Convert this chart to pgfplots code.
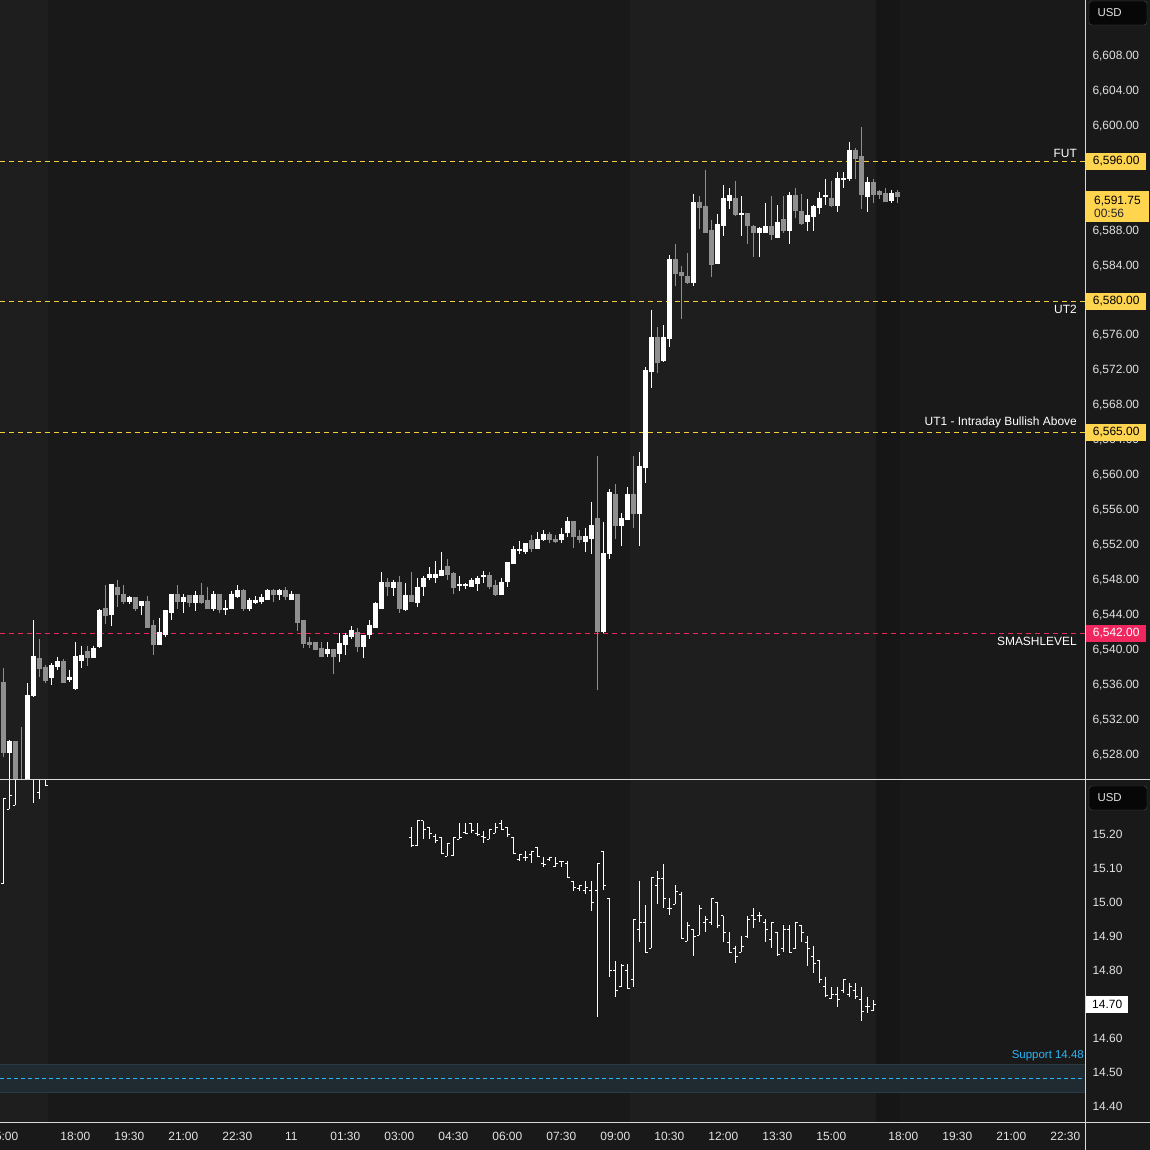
\documentclass[border=0pt]{standalone}
\usepackage{pgfplots}
\pgfplotsset{compat=1.18}
\usepackage{pgfplotstable}
\usepackage{fontspec}
\setmainfont{Liberation Sans}
\definecolor{bgbase}{HTML}{191919}
\definecolor{bglight}{HTML}{1E1E1E}
\definecolor{bgdark}{HTML}{161616}
\definecolor{candown}{HTML}{8F8F8F}
\definecolor{tickcol}{HTML}{E2E2E2}
\definecolor{lvlyellow}{HTML}{F7CF3D}
\definecolor{tagyellow}{HTML}{FFD54F}
\definecolor{lvlpink}{HTML}{F0265F}
\definecolor{supblue}{HTML}{29B6F6}
\definecolor{bandfill}{HTML}{1F2A31}
\definecolor{bandline}{HTML}{2A3B46}
\definecolor{sepcol}{HTML}{D9D9D9}

\pgfplotstableread{
k O H L C U
0 6536.13 6537.84 6527.66 6528.23 0
1 6528.23 6529.60 6522.00 6529.37 1
2 6529.37 6529.37 6522.00 6524.00 0
3 6524.50 6531.10 6521.00 6523.00 0
4 6523.00 6536.10 6521.00 6534.64 1
5 6534.75 6543.30 6534.50 6539.10 1
6 6538.87 6541.20 6536.80 6537.73 0
7 6537.84 6538.20 6536.10 6536.47 0
8 6536.70 6538.40 6535.90 6538.07 1
9 6537.96 6539.10 6537.60 6538.60 1
10 6538.60 6538.87 6536.20 6536.20 0
11 6536.50 6537.60 6536.20 6536.70 1
12 6535.55 6540.80 6535.30 6539.10 1
13 6538.70 6540.40 6537.84 6539.30 1
14 6539.67 6540.40 6538.07 6538.99 0
15 6538.99 6540.40 6538.99 6540.10 1
16 6540.25 6544.60 6540.10 6544.37 1
17 6544.60 6547.30 6542.90 6543.80 0
18 6544.00 6547.50 6542.65 6547.34 1
19 6547.10 6547.90 6544.80 6546.20 0
20 6546.30 6547.30 6545.20 6545.50 0
21 6545.50 6546.10 6545.20 6545.85 1
22 6545.85 6545.85 6544.40 6544.70 0
23 6545.05 6545.40 6543.90 6545.40 1
24 6545.40 6546.10 6542.50 6542.50 0
25 6542.65 6543.30 6539.30 6540.50 0
26 6540.50 6543.60 6540.50 6541.85 1
27 6541.70 6544.40 6541.40 6544.40 1
28 6544.25 6546.30 6543.30 6546.30 1
29 6546.30 6547.30 6544.60 6545.50 0
30 6545.50 6546.30 6544.10 6545.85 1
31 6546.10 6546.10 6544.80 6545.30 0
32 6545.30 6546.70 6544.40 6546.10 1
33 6546.10 6547.60 6545.20 6545.30 0
34 6545.60 6547.10 6544.70 6544.70 0
35 6544.70 6546.70 6544.40 6546.30 1
36 6546.30 6546.30 6544.10 6544.50 0
37 6544.50 6545.60 6543.90 6544.62 1
38 6544.70 6546.70 6544.60 6546.30 1
39 6546.00 6547.30 6545.90 6546.70 1
40 6546.70 6546.90 6544.40 6544.70 0
41 6544.70 6545.85 6544.40 6545.60 1
42 6545.30 6546.10 6545.20 6545.60 1
43 6545.50 6546.30 6545.20 6545.85 1
44 6545.70 6546.90 6545.60 6546.70 1
45 6546.70 6546.90 6545.40 6546.20 0
46 6546.20 6546.90 6545.60 6546.70 1
47 6546.70 6547.10 6545.60 6546.00 0
48 6545.70 6546.70 6545.70 6546.30 1
49 6546.30 6546.30 6542.10 6543.00 0
50 6543.30 6543.30 6540.10 6540.70 0
51 6540.80 6541.40 6540.10 6540.50 0
52 6540.80 6540.80 6539.90 6540.00 0
53 6540.10 6540.80 6539.20 6539.20 0
54 6539.50 6540.80 6539.10 6539.90 1
55 6539.90 6539.90 6537.20 6539.20 0
56 6539.50 6541.85 6538.50 6540.60 1
57 6540.50 6541.85 6539.30 6541.60 1
58 6541.50 6542.65 6541.20 6542.10 1
59 6541.85 6542.40 6539.70 6540.25 0
60 6540.25 6541.60 6539.00 6541.60 1
61 6541.70 6543.30 6541.20 6542.65 1
62 6542.50 6545.40 6542.40 6545.20 1
63 6544.70 6548.80 6544.60 6547.60 1
64 6547.60 6548.10 6546.10 6547.20 0
65 6547.00 6547.90 6546.10 6547.60 1
66 6547.60 6548.40 6544.10 6544.70 0
67 6544.50 6547.60 6544.40 6546.10 1
68 6546.10 6548.80 6545.40 6545.50 0
69 6545.30 6548.10 6544.80 6547.10 1
70 6547.20 6548.40 6546.10 6548.10 1
71 6548.20 6549.40 6547.90 6548.50 1
72 6548.20 6550.10 6547.60 6548.50 1
73 6548.40 6551.10 6548.40 6549.00 1
74 6549.40 6550.30 6547.90 6548.50 0
75 6548.60 6548.80 6546.30 6547.00 0
76 6547.30 6548.40 6546.70 6547.42 1
77 6547.30 6547.60 6546.90 6547.42 1
78 6547.20 6548.10 6547.10 6547.90 1
79 6547.50 6548.40 6546.70 6548.10 1
80 6548.30 6549.00 6547.60 6548.42 1
81 6548.40 6548.80 6546.90 6547.20 0
82 6547.30 6547.90 6546.10 6546.20 0
83 6546.20 6548.10 6546.20 6547.60 1
84 6547.80 6549.90 6547.10 6549.90 1
85 6549.75 6551.80 6549.75 6551.35 1
86 6551.30 6552.40 6550.90 6551.42 1
87 6551.20 6552.10 6550.90 6552.10 1
88 6552.40 6553.10 6551.10 6551.50 0
89 6551.50 6553.40 6551.50 6552.60 1
90 6552.50 6553.60 6552.40 6553.10 1
91 6553.10 6553.40 6552.10 6552.50 0
92 6552.60 6553.10 6552.10 6552.30 0
93 6552.50 6553.90 6552.10 6553.10 1
94 6553.30 6555.10 6552.85 6554.60 1
95 6554.60 6554.60 6551.60 6552.95 0
96 6552.85 6553.60 6552.10 6552.50 0
97 6552.30 6553.90 6551.10 6552.85 1
98 6552.70 6556.80 6550.90 6554.10 1
99 6554.90 6562.10 6535.30 6542.00 0
100 6542.00 6554.55 6541.85 6550.90 1
101 6551.00 6558.30 6550.30 6557.90 1
102 6557.65 6558.90 6552.60 6554.20 0
103 6554.20 6555.60 6551.80 6554.90 1
104 6554.80 6558.55 6554.80 6557.65 1
105 6557.65 6562.10 6553.90 6555.50 0
106 6555.50 6562.60 6551.80 6560.85 1
107 6560.77 6572.30 6559.00 6571.83 1
108 6571.75 6578.82 6569.92 6575.61 1
109 6575.61 6576.87 6571.64 6572.78 0
110 6573.01 6577.10 6572.90 6575.61 1
111 6575.53 6585.10 6574.62 6584.54 1
112 6584.54 6586.37 6581.56 6582.94 0
113 6583.05 6583.85 6577.79 6582.71 0
114 6582.59 6585.34 6581.79 6582.02 0
115 6582.02 6592.09 6581.56 6591.06 1
116 6591.06 6591.86 6588.09 6590.49 0
117 6590.60 6594.84 6587.63 6587.74 0
118 6587.86 6589.12 6582.59 6583.97 0
119 6584.19 6589.80 6584.08 6588.54 1
120 6588.43 6593.12 6587.28 6591.52 1
121 6591.40 6592.78 6590.37 6591.86 1
122 6591.52 6593.58 6589.57 6589.69 0
123 6589.75 6591.86 6587.28 6589.85 1
124 6589.80 6589.80 6586.37 6588.43 0
125 6588.31 6588.54 6584.88 6587.74 0
126 6587.74 6588.31 6584.88 6588.09 1
127 6587.74 6591.06 6587.63 6588.31 1
128 6588.31 6591.86 6586.83 6587.51 0
129 6587.17 6590.83 6587.17 6588.77 1
130 6589.12 6591.86 6587.63 6587.97 0
131 6587.97 6592.32 6586.37 6591.86 1
132 6591.86 6592.78 6589.34 6590.26 0
133 6590.03 6592.09 6588.54 6588.66 0
134 6589.00 6591.52 6587.86 6589.57 1
135 6589.46 6590.83 6587.86 6590.60 1
136 6590.49 6592.32 6589.80 6591.52 1
137 6591.80 6593.81 6590.83 6591.92 1
138 6591.52 6593.58 6590.60 6590.72 0
139 6590.72 6594.61 6590.03 6593.81 1
140 6593.75 6594.61 6592.78 6593.87 1
141 6593.92 6598.04 6593.58 6597.01 1
142 6597.01 6597.36 6593.81 6596.21 0
143 6596.33 6599.76 6590.37 6591.98 0
144 6591.75 6594.04 6590.03 6593.35 1
145 6593.35 6593.81 6591.06 6591.98 0
146 6592.32 6592.55 6591.52 6591.98 0
147 6592.09 6592.78 6591.18 6591.18 0
148 6591.40 6592.55 6591.06 6592.09 1
149 6592.25 6592.55 6591.06 6591.75 0
}\spx

\pgfplotstableread{
k O H L C
0 15.050 15.300 15.050 15.300
1 15.270 15.400 15.270 15.309
2 15.282 15.400 15.282 15.380
5 15.400 15.450 15.288 15.370
6 15.318 15.420 15.300 15.380
7 15.370 15.400 15.341 15.341
68 15.187 15.217 15.160 15.162
69 15.162 15.236 15.162 15.236
70 15.236 15.236 15.181 15.209
71 15.217 15.217 15.181 15.199
72 15.189 15.197 15.170 15.179
73 15.187 15.187 15.140 15.140
74 15.132 15.168 15.132 15.168
75 15.135 15.187 15.132 15.187
76 15.181 15.228 15.181 15.187
77 15.200 15.228 15.199 15.199
78 15.228 15.228 15.201 15.207
79 15.198 15.228 15.191 15.196
80 15.189 15.207 15.170 15.187
81 15.181 15.209 15.181 15.209
82 15.199 15.228 15.199 15.217
83 15.228 15.238 15.211 15.211
84 15.217 15.217 15.189 15.195
85 15.187 15.187 15.140 15.140
86 15.121 15.138 15.119 15.138
87 15.129 15.148 15.119 15.127
88 15.138 15.148 15.111 15.145
89 15.158 15.158 15.130 15.130
90 15.110 15.128 15.099 15.108
91 15.121 15.128 15.119 15.128
92 15.101 15.128 15.099 15.109
93 15.117 15.117 15.099 15.117
94 15.109 15.117 15.070 15.070
95 15.058 15.058 15.030 15.040
96 15.038 15.046 15.030 15.046
97 15.030 15.058 15.021 15.040
98 15.030 15.060 14.970 14.997
99 15.030 15.109 14.660 15.109
100 15.146 15.146 15.032 15.046
101 15.008 15.008 14.777 14.797
102 14.797 14.824 14.719 14.738
103 14.748 14.815 14.748 14.809
104 14.797 14.815 14.740 14.743
105 14.768 14.947 14.748 14.947
106 14.917 15.060 14.880 14.937
107 14.937 14.987 14.848 14.848
108 14.861 15.068 14.861 15.068
109 15.047 15.088 14.990 15.067
110 15.067 15.109 14.980 15.008
111 14.979 15.008 14.959 14.977
112 14.990 15.047 14.990 15.027
113 15.018 15.027 14.890 14.890
114 14.882 14.937 14.882 14.927
115 14.917 14.917 14.839 14.897
116 14.899 14.987 14.899 14.978
117 14.937 14.957 14.910 14.946
118 14.937 15.008 14.929 15.008
119 14.996 14.996 14.920 14.927
120 14.957 14.957 14.880 14.908
121 14.878 14.908 14.849 14.849
122 14.859 14.868 14.819 14.838
123 14.849 14.896 14.849 14.867
124 14.895 14.957 14.890 14.946
125 14.957 14.978 14.920 14.946
126 14.957 14.967 14.939 14.958
127 14.937 14.946 14.880 14.917
128 14.887 14.937 14.861 14.937
129 14.908 14.908 14.839 14.844
130 14.859 14.928 14.849 14.917
131 14.917 14.928 14.849 14.849
132 14.859 14.937 14.859 14.937
133 14.928 14.928 14.880 14.908
134 14.878 14.896 14.810 14.859
135 14.838 14.868 14.789 14.817
136 14.826 14.826 14.760 14.768
137 14.748 14.777 14.719 14.721
138 14.713 14.748 14.711 14.726
139 14.726 14.748 14.689 14.709
140 14.738 14.768 14.728 14.768
141 14.726 14.760 14.719 14.748
142 14.738 14.758 14.711 14.719
143 14.709 14.748 14.648 14.675
144 14.689 14.719 14.670 14.690
145 14.679 14.709 14.677 14.697
}\vix

\pgfplotsset{
  wick/.style={draw=none, mark=none, forget plot,
    error bars/.cd, y dir=minus, y explicit, error mark=none,
    error bar style={draw=#1, solid, line width=1bp}},
  body/.style={draw=none, mark=none, forget plot,
    error bars/.cd, y dir=minus, y explicit, error mark=none,
    error bar style={draw=#1, solid, line width=4.6bp}},
  tvticks/.style={
    scaled ticks=false,
    axis line style={draw=none},
    tick style={draw=none}, major tick length=0,
    yticklabel pos=right,
    yticklabel style={/pgf/number format/fixed, /pgf/number format/fixed zerofill,
      /pgf/number format/precision=2, /pgf/number format/1000 sep={,},
      /pgf/number format/assume math mode=true,
      anchor=west, xshift=4bp, yshift=-1bp, text=tickcol, font=\fontsize{12}{14}\selectfont},
  },
}
\tikzset{lvl/.style={draw=#1, line width=1.1bp, dash pattern=on 5bp off 4bp}}

\begin{document}
\begin{tikzpicture}[x=1bp,y=1bp]
\useasboundingbox (0,0) rectangle (1150,1150);
\clip (0,0) rectangle (1150,1150);
\fill[bgbase] (0,0) rectangle (1150,1150);
\fill[bglight] (0,28) rectangle (48.33,1150);
\fill[bglight] (630.33,28) rectangle (876.33,1150);
\fill[bgdark] (876.33,28) rectangle (900.33,1150);

% ---------- top panel ----------
\begin{axis}[
  at={(0bp,371bp)}, anchor=south west, scale only axis,
  width=1085bp, height=779bp,
  xmin=-0.555, xmax=180.28,
  ymin=6525.139, ymax=6614.295,
  tvticks,
  xtick=\empty,
  ytick={6528,6532,6536,6540,6544,6548,6552,6556,6560,6564,6568,6572,6576,6580,6584,6588,6596,6600,6604,6608},
]
\draw[lvl=lvlyellow, yshift=-1.5bp] (axis cs:-0.555,6596) -- (axis cs:180.28,6596);
\draw[lvl=lvlyellow, yshift=-1.85bp] (axis cs:-0.555,6580) -- (axis cs:180.28,6580);
\draw[lvl=lvlyellow, yshift=-1.8bp] (axis cs:-0.555,6565) -- (axis cs:180.28,6565);
\draw[lvl=lvlpink, yshift=-1.82bp] (axis cs:-0.555,6542) -- (axis cs:180.28,6542);

\addplot[wick=white] table[x=k, y=H,
  y error minus expr={(\thisrow{H}-\thisrow{L})*\thisrow{U}}] {\spx};
\addplot[wick=candown] table[x=k, y=H,
  y error minus expr={(\thisrow{H}-\thisrow{L})*(1-\thisrow{U})}] {\spx};
\addplot[body=white] table[x=k, y expr={max(\thisrow{O},\thisrow{C})+0.06},
  y error minus expr={(abs(\thisrow{C}-\thisrow{O})+0.12)*\thisrow{U}}] {\spx};
\addplot[body=candown] table[x=k, y expr={max(\thisrow{O},\thisrow{C})+0.06},
  y error minus expr={(abs(\thisrow{C}-\thisrow{O})+0.12)*(1-\thisrow{U})}] {\spx};

\coordinate (tFUT) at ([yshift=-1.5bp]axis cs:180.28,6596);
\coordinate (tUT2) at ([yshift=-1.5bp]axis cs:180.28,6580);
\coordinate (tUT1) at ([yshift=-1.5bp]axis cs:180.28,6565);
\coordinate (tSMA) at ([yshift=-1.5bp]axis cs:180.28,6542);
\coordinate (tLast) at (axis cs:180.28,6591.75);
\end{axis}

% ---------- bottom panel ----------
\begin{axis}[
  at={(0bp,28bp)}, anchor=south west, scale only axis,
  width=1085bp, height=342bp,
  xmin=-0.555, xmax=180.28,
  ymin=14.35, ymax=15.3559,
  tvticks,
  xtick={0,12,21,30,39,48,57,66,75,84,93,102,111,120,129,138,150,159,168,177},
  xticklabels={15:00,18:00,19:30,21:00,22:30,11,01:30,03:00,04:30,06:00,07:30,09:00,10:30,12:00,13:30,15:00,18:00,19:30,21:00,22:30},
  xticklabel style={text=tickcol, font=\fontsize{12}{14}\selectfont, yshift=-7bp},
  ytick={14.4,14.5,14.6,14.7,14.8,14.9,15.0,15.1,15.2},
]
\fill[bandfill] (axis cs:-0.555,14.438) rectangle (axis cs:180.28,14.518);
\draw[bandline, line width=1bp] (axis cs:-0.555,14.438) -- (axis cs:180.28,14.438);
\draw[bandline, line width=1bp] (axis cs:-0.555,14.518) -- (axis cs:180.28,14.518);
\draw[supblue, line width=1.1bp, dash pattern=on 4bp off 3bp, yshift=-0.7bp] (axis cs:-0.555,14.48) -- (axis cs:180.28,14.48);

\addplot[wick=white] table[x=k, y=H, y error minus expr={\thisrow{H}-\thisrow{L}}] {\vix};
\addplot[draw=none, mark=none, forget plot, error bars/.cd, x dir=minus, x fixed=0.45, error mark=none,
  error bar style={draw=white, solid, line width=1bp}] table[x=k, y=O] {\vix};
\addplot[draw=none, mark=none, forget plot, error bars/.cd, x dir=plus, x fixed=0.45, error mark=none,
  error bar style={draw=white, solid, line width=1bp}] table[x=k, y=C] {\vix};

\coordinate (tVIX) at (axis cs:180.28,14.697);
\coordinate (tSup) at (axis cs:180.28,14.48);
\end{axis}

% separators
\draw[sepcol, line width=1bp] (1085.5,0) -- (1085.5,1150);
\draw[sepcol, line width=1bp] (0,370.5) -- (1150,370.5);
\draw[sepcol, line width=1bp] (0,27.5) -- (1150,27.5);

% level labels
\begin{scope}[font=\fontsize{12}{14}\selectfont, text=white]
\node[anchor=south east, inner sep=1bp] at ([xshift=-7bp,yshift=3bp]tFUT) {FUT};
\node[anchor=north east, inner sep=1bp] at ([xshift=-7bp,yshift=-3bp]tUT2) {UT2};
\node[anchor=south east, inner sep=1bp] at ([xshift=-7bp,yshift=3bp]tUT1) {UT1 - Intraday Bullish Above};
\node[anchor=north east, inner sep=1bp] at ([xshift=-7bp,yshift=-3bp]tSMA) {SMASHLEVEL};
\end{scope}
\node[anchor=south east, inner sep=1bp, text=supblue, font=\fontsize{11.5}{13}\selectfont] at ([xshift=0bp,yshift=16bp]tSup) {Support 14.48};

% price tags
\begin{scope}[font=\fontsize{12}{14}\selectfont]
\node[fill=tagyellow, text=black, anchor=west, minimum width=60bp, minimum height=17bp, inner sep=0] at ([xshift=1bp]tFUT) {6,596.00};
\node[fill=tagyellow, text=black, anchor=west, minimum width=60bp, minimum height=17bp, inner sep=0] at ([xshift=1bp]tUT2) {6,580.00};
\node[fill=tagyellow, text=black, anchor=west, minimum width=60bp, minimum height=17bp, inner sep=0] at ([xshift=1bp]tUT1) {6,565.00};
\node[fill=lvlpink, text=white, anchor=west, minimum width=60bp, minimum height=17bp, inner sep=0] at ([xshift=1bp]tSMA) {6,542.00};
\node[fill=tagyellow, text=black, anchor=north west, minimum width=60bp, minimum height=31bp, inner xsep=8bp, inner ysep=2bp, align=left, font=\fontsize{12}{13}\selectfont] at ([xshift=1bp,yshift=6bp]tLast) {6,591.75\\\textcolor{black!85}{00:56}};
\node[fill=white, text=black, anchor=west, minimum width=42bp, minimum height=17bp, inner sep=0] at ([xshift=1bp]tVIX) {14.70};
\end{scope}

% USD boxes
\draw[fill=black!70!bgbase, draw=black!40!gray, rounded corners=3bp] (1089,1125) rectangle (1147,1149);
\node[anchor=west, text=tickcol, font=\fontsize{11.5}{13}\selectfont] at (1094,1137.5) {USD};
\draw[fill=black!70!bgbase, draw=black!40!gray, rounded corners=3bp] (1089,340) rectangle (1147,364);
\node[anchor=west, text=tickcol, font=\fontsize{11.5}{13}\selectfont] at (1094,352.5) {USD};
\end{tikzpicture}
\end{document}
